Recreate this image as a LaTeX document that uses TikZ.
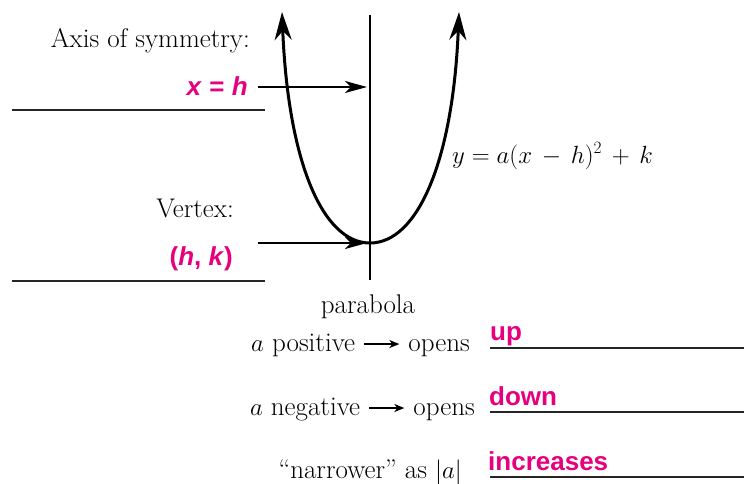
\documentclass[tikz,border=0pt]{standalone}
\usepackage{amsmath}
\usepackage{fontspec}
\usetikzlibrary{arrows.meta}
\newfontfamily\pinkfont{Liberation Sans}
\definecolor{ansPink}{HTML}{E6007E}
\newcommand{\opensarrow}{\tikz[baseline=-0.6ex]\draw[line width=1.9pt,-{Stealth[length=10pt,width=8pt,inset=3pt]}] (0,0) -- (1.3em,0);}

\begin{document}
\begin{tikzpicture}[x=1pt,y=-1pt]
    \tikzstyle{lbl}=[inner sep=0pt, font=\fontsize{27}{31}\selectfont]
    \tikzstyle{ans}=[inner sep=0pt, text=ansPink, font=\fontsize{26}{30}\selectfont\pinkfont\bfseries]
    \tikzstyle{blank}=[line width=1.2pt, black!85]
    \tikzstyle{pointer}=[line width=1.5pt, -{Stealth[length=22pt,width=12pt,inset=6pt]}]
    \useasboundingbox (0,0) rectangle (744,484);

    % axis and parabola
    \coordinate (axtop) at (370,15);
    \coordinate (axbot) at (370,280);
    \coordinate (vtx) at (370,243);
    \coordinate (ltip) at (282,12);
    \coordinate (rtip) at (459,12);
    \draw[line width=1.5pt] (axtop) -- (axbot);
    \draw[line width=3pt, -{Stealth[length=28pt,width=17pt,inset=9pt]}]
      (vtx) .. controls (322,243) and (288,160) .. (ltip);
    \draw[line width=3pt, -{Stealth[length=28pt,width=17pt,inset=9pt]}]
      (vtx) .. controls (418,243) and (453,160) .. (rtip);
    \node[lbl, anchor=base west] (eqn) at (452,163) {$y = a(x \,-\, h)^2 \,+\, k$};

    % left labels
    \node[lbl, anchor=base east] (axislbl) at (250,48) {Axis of symmetry:};
    \node[ans, anchor=base east] (axisans) at (248,96) {\itshape x\hspace{0.3em}=\hspace{0.3em}h};
    \node[lbl, anchor=base east] (vertexlbl) at (234,217) {Vertex:};
    \node[ans, anchor=base east] (vertexans) at (233,265) {(\textit{h}, \textit{k})};
    \coordinate (axisend) at (axisans.east -| axtop);
    \coordinate (vtxstart) at (258,243);
    \draw[pointer] (258,87) -- ([xshift=-3pt]axisend |- 0,87);
    \draw[pointer] (vtxstart) -- ([xshift=-3pt]vtx);
    \draw[blank] (12,110) -- (265,110);
    \draw[blank] (12,281) -- (265,281);

    % bottom rules
    \node[lbl, anchor=base] (parab) at (368,313) {parabola};
    \node[lbl, anchor=base east] (posrow) at (470,351) {$a$ positive \opensarrow\ opens};
    \node[lbl, anchor=base east] (negrow) at (475,415) {$a$ negative \opensarrow\ opens};
    \node[lbl, anchor=base east] (narrow) at (462,478) {``narrower'' as $|a|$};
    \node[ans, anchor=base west] (upans) at (490,340) {up};
    \node[ans, anchor=base west] (downans) at (489,405) {down};
    \node[ans, anchor=base west] (incans) at (488,470) {increases};
    \draw[blank] (490,348) -- (744,348);
    \draw[blank] (490,412) -- (744,412);
    \draw[blank] (490,477) -- (744,477);
\end{tikzpicture}
\end{document}
